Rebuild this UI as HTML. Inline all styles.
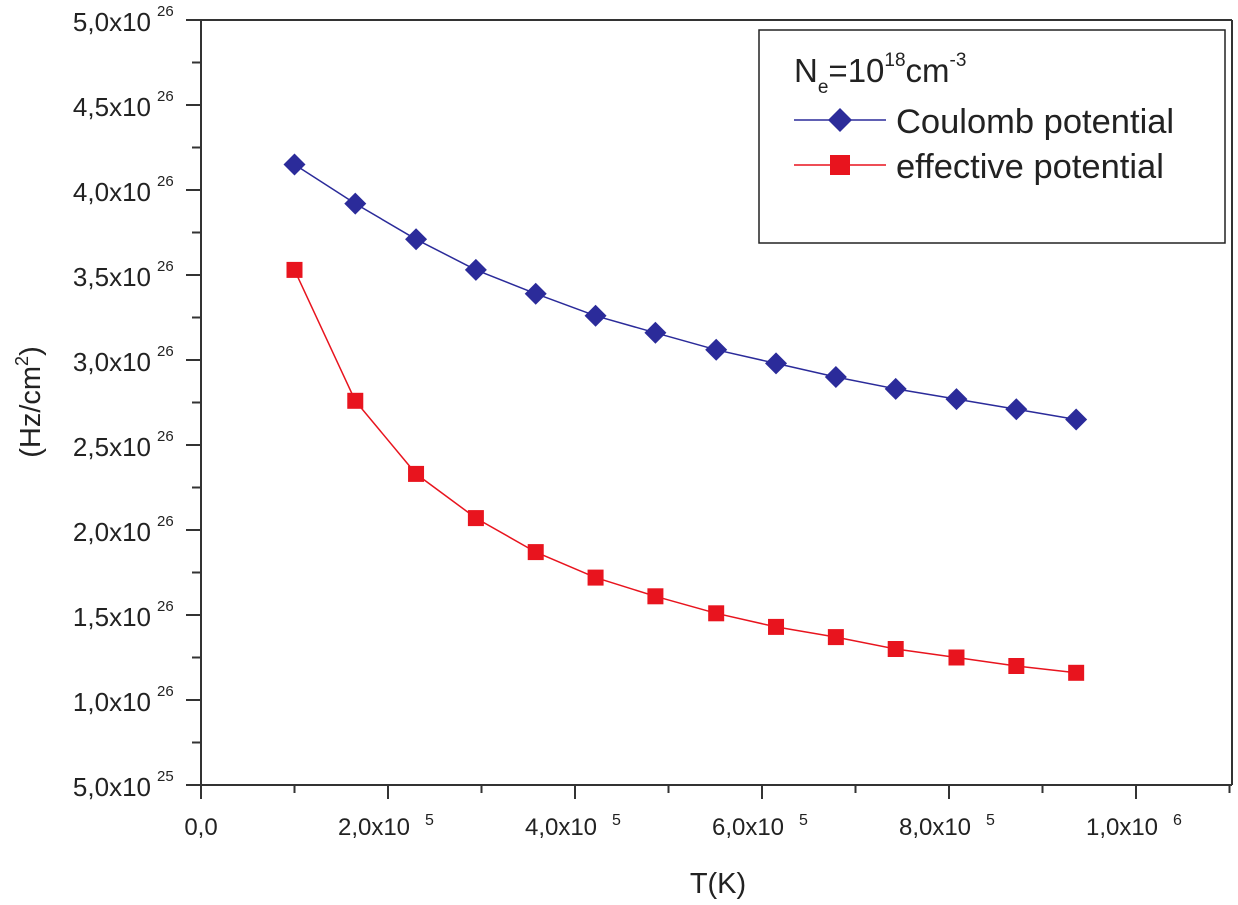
<!DOCTYPE html>
<html><head><meta charset="utf-8"><style>
html,body{margin:0;padding:0;background:#fff;}
svg{display:block;font-family:"Liberation Sans",Arial,sans-serif;}
</style></head><body>
<svg id="chart" width="1238" height="905" viewBox="0 0 1238 905">
<g id="axes"></g>
<g id="series"></g>
<g id="legend">
  <rect x="759" y="30" width="466" height="213" fill="#fff" stroke="#222" stroke-width="1.5"/>
  <text x="794" y="82" font-size="33" fill="#222">N<tspan font-size="19" dy="11">e</tspan><tspan dy="-11">=10</tspan><tspan font-size="19" dy="-16">18</tspan><tspan dy="16">cm</tspan><tspan font-size="19" dy="-16">-3</tspan></text>
  <g>
    <line x1="794" y1="120" x2="886" y2="120" stroke="#2b2b9a" stroke-width="1.5"/>
    <polygon points="840,108 852,120 840,132 828,120" fill="#2b2b9a"/>
    <text x="896" y="133" font-size="34.5" fill="#222">Coulomb potential</text>
  </g>
  <g>
    <line x1="794" y1="165" x2="886" y2="165" stroke="#e8141e" stroke-width="1.5"/>
    <rect x="830" y="155" width="20" height="20" fill="#e8141e"/>
    <text x="896" y="178" font-size="34.5" fill="#222">effective potential</text>
  </g>
</g>
<text x="718" y="893" font-size="29" fill="#222" text-anchor="middle">T(K)</text>
<text transform="translate(40,402) rotate(-90)" font-size="29" fill="#222" text-anchor="middle">(Hz/cm<tspan font-size="18" dy="-12">2</tspan><tspan dy="12">)</tspan></text>
</svg>
<script>
const xValues = [1.0e5, 1.65e5, 2.3e5, 2.94e5, 3.58e5, 4.22e5, 4.86e5, 5.51e5, 6.15e5, 6.79e5, 7.43e5, 8.08e5, 8.72e5, 9.36e5];
const coulombValues = [4.15, 3.92, 3.71, 3.53, 3.39, 3.26, 3.16, 3.06, 2.98, 2.90, 2.83, 2.77, 2.71, 2.65];
const effectiveValues = [3.53, 2.76, 2.33, 2.07, 1.87, 1.72, 1.61, 1.51, 1.43, 1.37, 1.30, 1.25, 1.20, 1.16];
const xTickValues = [0, 2e5, 4e5, 6e5, 8e5, 1e6];
const xTickMantissas = ["0,0", "2,0x10", "4,0x10", "6,0x10", "8,0x10", "1,0x10"];
const xTickExps = ["", "5", "5", "5", "5", "6"];
const yTickValues = [0.5, 1.0, 1.5, 2.0, 2.5, 3.0, 3.5, 4.0, 4.5, 5.0];
const yTickMantissas = ["5,0x10", "1,0x10", "1,5x10", "2,0x10", "2,5x10", "3,0x10", "3,5x10", "4,0x10", "4,5x10", "5,0x10"];
const yTickExps = ["25", "26", "26", "26", "26", "26", "26", "26", "26", "26"];

const NS = "http://www.w3.org/2000/svg";
const X0 = 201, XPX = 93.5 / 1e5;
const Y0 = 785, YMIN = 0.5, YPX = 170;
function sx(v){ return X0 + v * XPX; }
function sy(v){ return Y0 - (v - YMIN) * YPX; }
function mk(tag, attrs, parent){ const e = document.createElementNS(NS, tag); for (const k in attrs) e.setAttribute(k, attrs[k]); parent.appendChild(e); return e; }

const axes = document.getElementById("axes");
const L = { stroke: "#333", "stroke-width": 2 };
let e;
e = mk("line", Object.assign({x1: X0, y1: 20, x2: X0, y2: Y0}, L), axes);


e = mk("line", Object.assign({x1: 186, y1: Y0, x2: 1232, y2: Y0}, L), axes);


e = mk("line", Object.assign({x1: 186, y1: 20, x2: 1232, y2: 20}, L), axes);


e = mk("line", Object.assign({x1: 1232, y1: 20, x2: 1232, y2: Y0}, L), axes);



yTickValues.forEach((v, i) => {
  const y = sy(v);
  const t = mk("line", Object.assign({x1: 186, y1: y, x2: X0, y2: y}, L), axes);
  
  
  if (i < yTickValues.length - 1) {
    const m = mk("line", Object.assign({x1: 192, y1: sy(v + 0.25), x2: X0, y2: sy(v + 0.25)}, L), axes);
    
    
  }
  const tx = mk("text", {x: 151, y: y + 11, "font-size": 26, fill: "#222", "text-anchor": "end"}, axes);
  tx.textContent = yTickMantissas[i];
  
  
  const ex = mk("text", {x: 157, y: y - 4, "font-size": 15, fill: "#222"}, axes);
  ex.textContent = yTickExps[i];
  
  
});
xTickValues.forEach((v, i) => {
  const x = sx(v);
  const t = mk("line", Object.assign({x1: x, y1: Y0, x2: x, y2: Y0 + 14}, L), axes);
  
  
  const mx = v + 1e5;
  if (sx(mx) < 1232) {
    const m = mk("line", Object.assign({x1: sx(mx), y1: Y0, x2: sx(mx), y2: Y0 + 8}, L), axes);
    
    
  }
  const tx = mk("text", {x: x + (xTickExps[i] ? -14 : 0), y: Y0 + 50, "font-size": 24, fill: "#222", "text-anchor": "middle"}, axes);
  tx.textContent = xTickMantissas[i];
  
  
  if (xTickExps[i]) {
    const ex = mk("text", {x: x + 37, y: Y0 + 40, "font-size": 16, fill: "#222"}, axes);
    ex.textContent = xTickExps[i];
    
    
  }
});

const series = document.getElementById("series");
function drawSeries(vals, color, kind, name) {
  const g = mk("g", {}, series);
  
  
  const pts = vals.map((v, i) => sx(xValues[i]) + "," + sy(v)).join(" ");
  const pl = mk("polyline", {points: pts, fill: "none", stroke: color, "stroke-width": 1.5}, g);
  
  
  vals.forEach((v, i) => {
    const x = sx(xValues[i]), y = sy(v);
    let p;
    if (kind === "diamond") p = mk("polygon", {points: `${x},${y-11} ${x+11},${y} ${x},${y+11} ${x-11},${y}`, fill: color}, g);
    else p = mk("rect", {x: x - 8, y: y - 8, width: 16, height: 16, fill: color}, g);
    
    
  });
}
drawSeries(coulombValues, "#2b2b9a", "diamond", "coulomb");
drawSeries(effectiveValues, "#e8141e", "square", "effective");
</script>
</body></html>
